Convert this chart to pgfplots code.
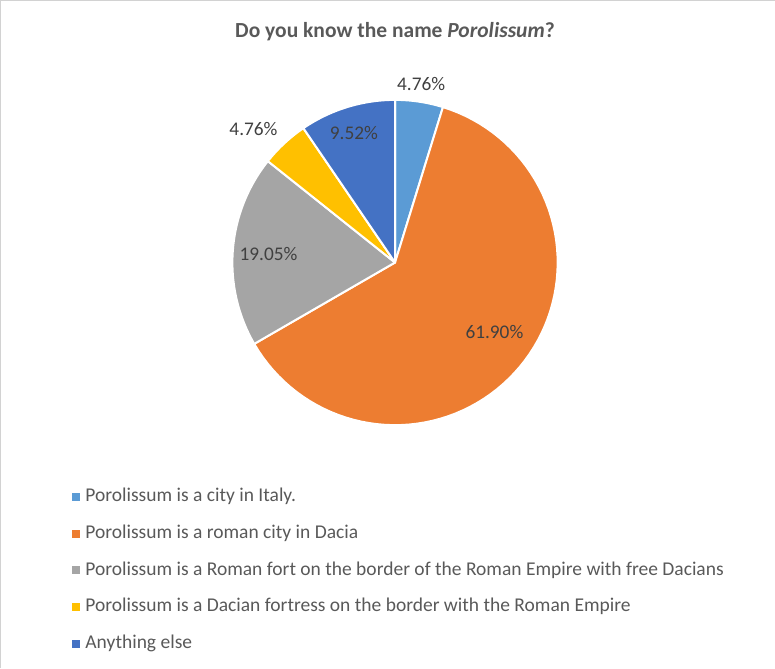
\documentclass[border=0pt]{standalone}
\usepackage{pgfplots}
\pgfplotsset{compat=1.18}
\usepackage{fontspec}
\setmainfont{Carlito}
\definecolor{c1}{HTML}{5B9BD5}
\definecolor{c2}{HTML}{ED7D31}
\definecolor{c3}{HTML}{A5A5A5}
\definecolor{c4}{HTML}{FFC000}
\definecolor{c5}{HTML}{4472C4}
\definecolor{txt}{HTML}{595959}
\definecolor{lbl}{HTML}{404040}
% slice: start cumulative %, end cumulative %, colour
\newcommand{\pieslice}[3]{%
  \addplot[forget plot, fill=#3, draw=white, line width=2bp, line join=round,
    domain=#1:#2, samples=80, variable=\t]
    ({397+162*sin(3.6*\t)}, {265-162*cos(3.6*\t)}) -- (axis cs:397,265) -- cycle;
}
\begin{document}
\begin{tikzpicture}
\begin{axis}[
  width=775bp, height=669bp, scale only axis,
  xmin=0, xmax=775, ymin=0, ymax=669, y dir=reverse,
  hide axis, clip=false,
  legend style={at={(axis cs:75,489)}, anchor=north west, draw=none, fill=none,
    font=\fontsize{19.5}{23}\selectfont\color{txt}, cells={anchor=west},
    nodes={inner sep=0pt, text height=14bp, text depth=4bp},
    row sep=18.6bp, inner sep=0pt,
    /tikz/every odd column/.append style={column sep=6bp}},
  legend image code/.code={\fill[#1] (0bp,-3.5bp) rectangle (7bp,3.5bp);},
]
% values (%): 4.76, 61.90, 19.05, 4.76, 9.52 -- cumulative below
\pieslice{0}{4.76}{c1}
\pieslice{4.76}{66.66}{c2}
\pieslice{66.66}{85.71}{c3}
\pieslice{85.71}{90.47}{c4}
\pieslice{90.47}{100}{c5}
\addlegendimage{c1}\addlegendentry{Porolissum is a city in Italy.}
\addlegendimage{c2}\addlegendentry{Porolissum is a roman city in Dacia}
\addlegendimage{c3}\addlegendentry{Porolissum is a Roman fort on the border of the Roman Empire with free Dacians}
\addlegendimage{c4}\addlegendentry{Porolissum is a Dacian fortress on the border with the Roman Empire}
\addlegendimage{c5}\addlegendentry{Anything else}
\draw[gray!35, line width=1bp] (axis cs:4,669) -- (axis cs:4,4) -- (axis cs:775,4);
\node[font=\fontsize{21.5}{25}\selectfont\bfseries, text=txt] at (axis cs:397,35) {Do you know the name \textit{Porolissum}?};
\begin{scope}[every node/.style={font=\fontsize{19.3}{23}\selectfont, text=lbl}]
\node at (axis cs:423,87) {4.76\%};
\node at (axis cs:496,334) {61.90\%};
\node at (axis cs:271,257) {19.05\%};
\node at (axis cs:256,132) {4.76\%};
\node at (axis cs:356,136) {9.52\%};
\end{scope}
\end{axis}
\end{tikzpicture}
\end{document}
